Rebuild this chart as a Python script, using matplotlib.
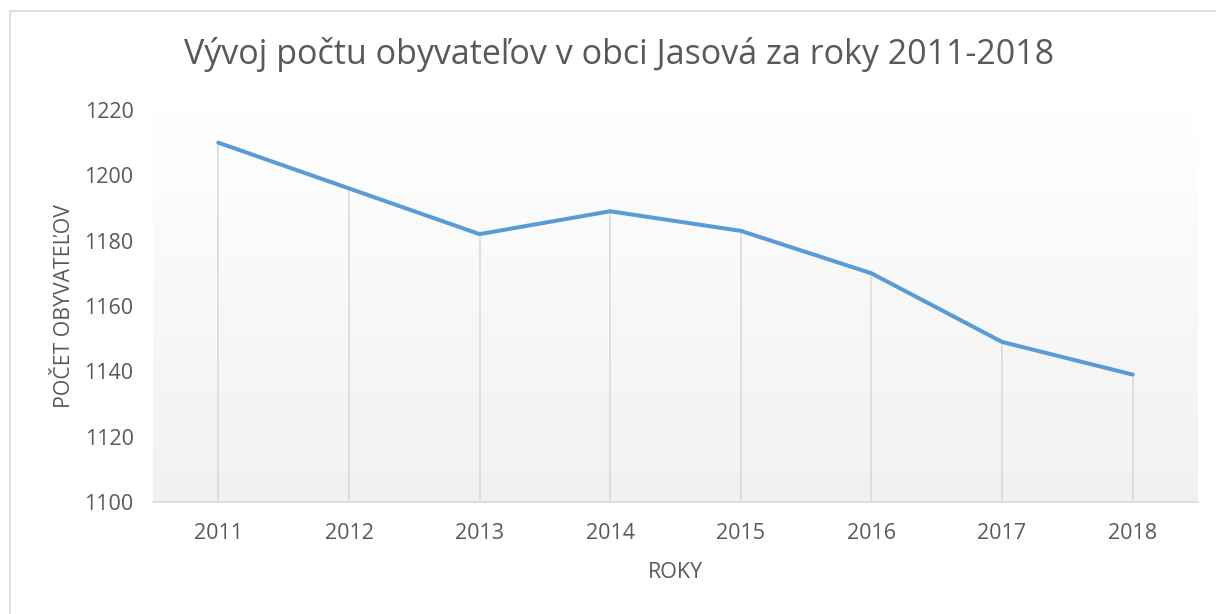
import matplotlib.pyplot as plt
import numpy as np
from matplotlib.colors import LinearSegmentedColormap
from matplotlib.patches import Rectangle

years = ["2011", "2012", "2013", "2014", "2015", "2016", "2017", "2018"]
population = [1210, 1196, 1182, 1189, 1183, 1170, 1149, 1139]
y_ticks = [1100, 1120, 1140, 1160, 1180, 1200, 1220]

TEXT = "#595959"
GRID = "#d9d9d9"
LINE = "#5b9bd5"

plt.rcParams["font.family"] = ["Open Sans", "DejaVu Sans"]

fig = plt.figure(figsize=(12.16, 6.14), dpi=100)
ax = fig.add_axes([153 / 1216, 1 - 502 / 614, (1198 - 153) / 1216, (502 - 110) / 614])

x = np.arange(len(years))
ax.set_xlim(-0.5, len(years) - 0.5)
ax.set_ylim(1100, 1220)

# plot area gradient, white at top to light gray at bottom
grad = np.linspace(1.0, 0.0, 256).reshape(-1, 1)
cmap = LinearSegmentedColormap.from_list("g", ["#f1f1f1", "#ffffff"])
ax.imshow(grad, cmap=cmap, extent=[-0.5, len(years) - 0.5, 1100, 1220],
          aspect="auto", zorder=0, vmin=0, vmax=1)

ax.vlines(x, 1100, population, color=GRID, linewidth=1.1, zorder=1)
ax.plot(x, population, color=LINE, linewidth=2.9, solid_capstyle="round",
        solid_joinstyle="round", zorder=3)

ax.set_xticks(x)
ax.set_xticklabels(years)
ax.set_yticks(y_ticks)
ax.tick_params(axis="both", length=0, colors=TEXT, labelsize=15.5)
ax.tick_params(axis="x", pad=15)
ax.tick_params(axis="y", pad=14)

for side in ["top", "right", "left"]:
    ax.spines[side].set_visible(False)
ax.spines["bottom"].set_color(GRID)
ax.spines["bottom"].set_linewidth(1.2)

ax.set_xlabel("ROKY", color=TEXT, fontsize=15.5, labelpad=13)
ax.set_ylabel("POČET OBYVATEĽOV", color=TEXT, fontsize=15.3, labelpad=7)

fig.text(619 / 1216, 1 - 55 / 614, "Vývoj počtu obyvateľov v obci Jasová za roky 2011-2018",
         ha="center", va="center", color=TEXT, fontsize=24.5)

# chart area border
fig.patches.append(Rectangle((10 / 1216, -0.1), 1.2, 1 - 11 / 614 + 0.1, transform=fig.transFigure,
                             fill=False, edgecolor=GRID, linewidth=1.2, zorder=0))

fig.savefig("out.png", dpi=100)
